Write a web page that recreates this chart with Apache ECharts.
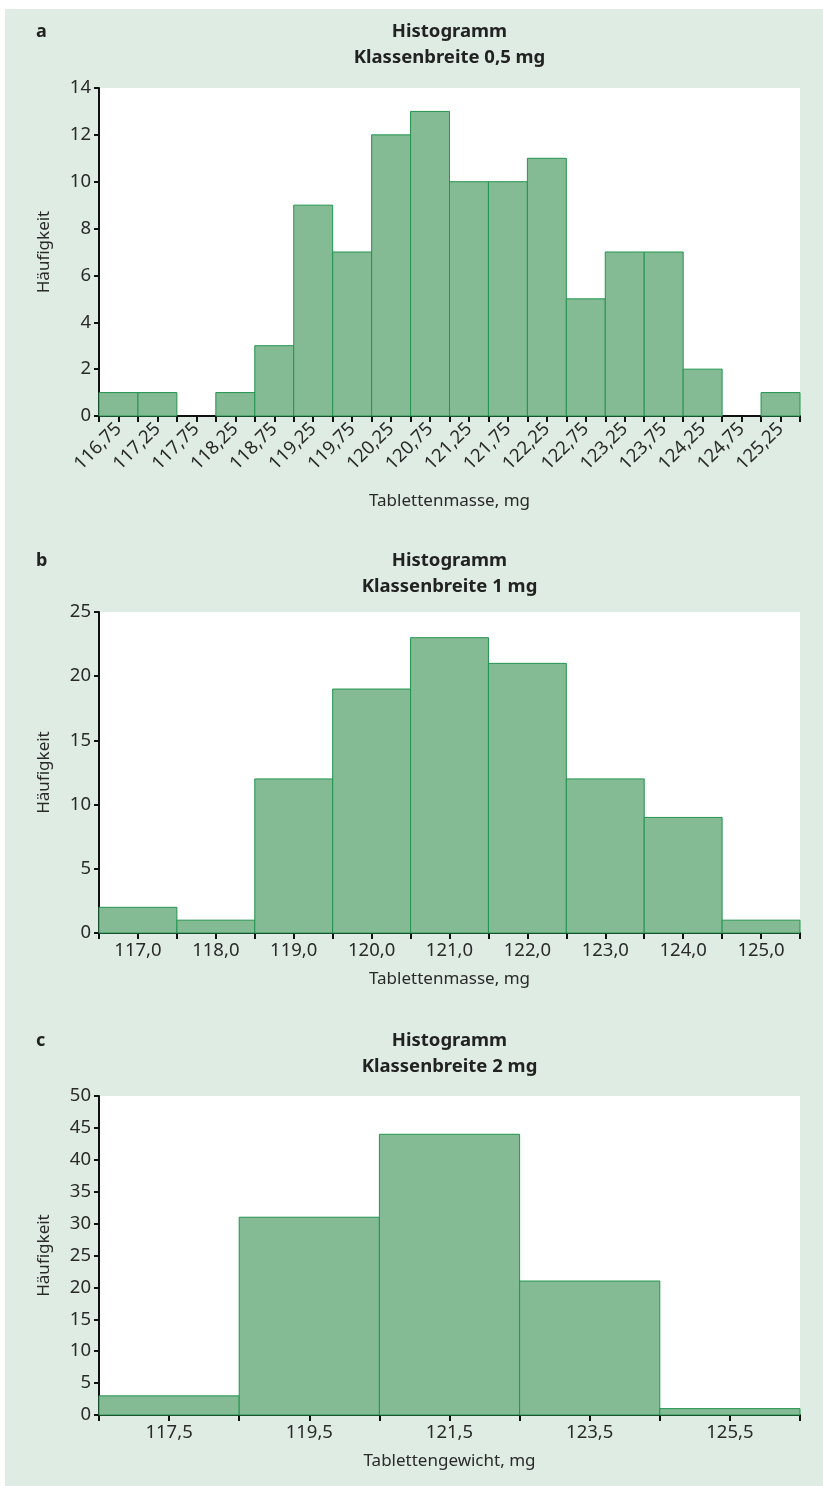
<!DOCTYPE html>
<html><head><meta charset="utf-8">
<script src="https://cdn.jsdelivr.net/npm/echarts@6/dist/echarts.min.js"></script>
<style>
html,body{margin:0;padding:0;background:#fff;}
#bg{position:absolute;left:5px;top:9px;width:818px;height:1477px;background:#dfece3;}
#c{position:absolute;left:0;top:0;width:823px;height:1486px;}
</style></head>
<body><div id="bg"></div><div id="c"></div>
<script>
// Panel a: class width 0.5 mg
const centersA = [116.75,117.25,117.75,118.25,118.75,119.25,119.75,120.25,120.75,121.25,121.75,122.25,122.75,123.25,123.75,124.25,124.75,125.25];
const countsA  = [1,1,0,1,3,9,7,12,13,10,10,11,5,7,7,2,0,1];
// Panel b: class width 1 mg
const centersB = [117,118,119,120,121,122,123,124,125];
const countsB  = [2,1,12,19,23,21,12,9,1];
// Panel c: class width 2 mg
const centersC = [117.5,119.5,121.5,123.5,125.5];
const countsC  = [3,31,44,21,1];
const widthA = 0.5, widthB = 1, widthC = 2;
const titlesA = ['Histogramm','Klassenbreite 0,5 mg'];
const titlesB = ['Histogramm','Klassenbreite 1 mg'];
const titlesC = ['Histogramm','Klassenbreite 2 mg'];
const xNameAB = 'Tablettenmasse, mg';
const xNameC = 'Tablettengewicht, mg';
const yName = 'Häufigkeit';

const FONT = '"Noto Sans", sans-serif';
const txt = '#2a2a2a';
const barFill = '#84ba94', barStroke = '#23954f';

const grids = [
  {left:99, right:23, top:88, height:328},
  {left:99, right:23, top:612, height:321},
  {left:99, right:23, top:1096, height:319}
];
grids.forEach(g=>{g.show=true; g.backgroundColor='#fff'; g.borderWidth=0;});

function fmt(v, dec){ return v.toFixed(dec).replace('.', ','); }

function xAxis(idx, min, max, interval, labelTest, dec, name, rotate, nameGap){
  return {
    type:'value', gridIndex:idx, min:min, max:max, interval:interval,
    name:name, nameLocation:'middle', nameGap:nameGap,
    nameTextStyle:{fontFamily:FONT, fontSize:17, color:txt},
    axisLine:{show:true, lineStyle:{color:'#111', width:2}},
    axisTick:{show:true, inside:false, length:6, lineStyle:{color:'#111', width:2}},
    splitLine:{show:false},
    axisLabel:{
      show:true, rotate:rotate, margin:rotate?10:8, fontFamily:FONT, fontSize:18.5, color:txt,
      hideOverlap:false, showMinLabel:true, showMaxLabel:true,
      formatter:function(v){ return labelTest(v) ? fmt(v,dec) : ''; }
    }
  };
}
function yAxis(idx, max, interval){
  return {
    type:'value', gridIndex:idx, min:0, max:max, interval:interval,
    name:yName, nameLocation:'middle', nameGap:46, nameRotate:90,
    nameTextStyle:{fontFamily:FONT, fontSize:17, color:txt},
    axisLine:{show:true, lineStyle:{color:'#111', width:2}},
    axisTick:{show:true, inside:false, length:5, lineStyle:{color:'#111', width:2}},
    splitLine:{show:false},
    axisLabel:{fontFamily:FONT, fontSize:18.5, color:txt, margin:8}
  };
}
const near = (a,b)=>Math.abs(a-b)<1e-6;
const isOdd = (v, first, step)=>{ const k=(v-first)/step; return near(k, Math.round(k)); };

function histSeries(idx, centers, counts, width){
  return {
    type:'custom', xAxisIndex:idx, yAxisIndex:idx,
    data: centers.map((c,i)=>[c, counts[i]]),
    renderItem:function(params, api){
      const c = api.value(0), n = api.value(1);
      if(!n) return null;
      const p0 = api.coord([c - width/2, 0]);
      const p1 = api.coord([c + width/2, n]);
      return {type:'rect', shape:{x:p0[0], y:p1[1], width:p1[0]-p0[0], height:p0[1]-p1[1]},
        style:{fill:barFill, stroke:barStroke, lineWidth:1}};
    }
  };
}
function titleGraphics(lines, letter, y){
  return [
    {type:'text', x:36, y:y, style:{text:letter, font:'bold 18px '+FONT, fill:'#222', textVerticalAlign:'middle'}},
    {type:'text', x:449.5, y:y, style:{text:lines[0], font:'bold 18.5px '+FONT, fill:'#222', textAlign:'center', textVerticalAlign:'middle'}},
    {type:'text', x:449.5, y:y+26, style:{text:lines[1], font:'bold 18.5px '+FONT, fill:'#222', textAlign:'center', textVerticalAlign:'middle'}}
  ];
}

const chart = echarts.init(document.getElementById('c'), null, {renderer:'canvas'});
chart.setOption({
  animation:false,
  backgroundColor:'transparent',
  grid:grids,
  xAxis:[
    xAxis(0, 116.5, 125.5, 0.25, v=>isOdd(v,116.75,0.5), 2, xNameAB, 45, 77),
    xAxis(1, 116.5, 125.5, 0.5, v=>isOdd(v,117,1), 1, xNameAB, 0, 38),
    xAxis(2, 116.5, 126.5, 1, v=>isOdd(v,117.5,2), 1, xNameC, 0, 38)
  ],
  yAxis:[ yAxis(0,14,2), yAxis(1,25,5), yAxis(2,50,5) ],
  series:[
    histSeries(0, centersA, countsA, widthA),
    histSeries(1, centersB, countsB, widthB),
    histSeries(2, centersC, countsC, widthC)
  ],
  graphic:[].concat(
    titleGraphics(titlesA,'a',32),
    titleGraphics(titlesB,'b',561),
    titleGraphics(titlesC,'c',1041)
  )
});
</script></body></html>
